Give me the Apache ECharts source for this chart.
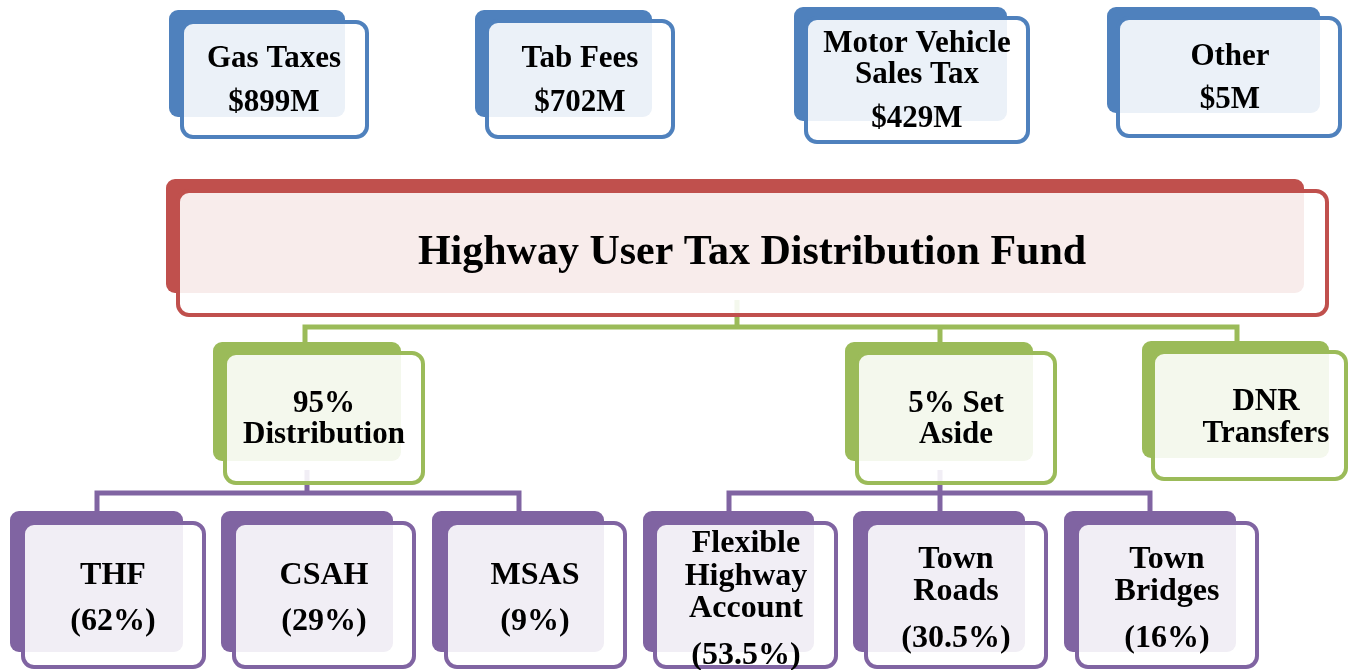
<!DOCTYPE html>
<html>
<head>
<meta charset="utf-8">
<script src="https://cdn.jsdelivr.net/npm/echarts@6/dist/echarts.min.js"></script>
<style>
  html, body { margin: 0; padding: 0; background: #fff; }
  #chart { width: 1348px; height: 670px; }
</style>
</head>
<body>
<div id="chart"></div>
<script>
// revenue sources
var sourceNames = ['Gas Taxes', 'Tab Fees', 'Motor Vehicle\nSales Tax', 'Other'];
var sourceAmounts = ['$899M', '$702M', '$429M', '$5M'];
// fund
var fundName = 'Highway User Tax Distribution Fund';
// first split
var splitNames = ['95%\nDistribution', '5% Set\nAside', 'DNR\nTransfers'];
// 95% distribution
var distNames = ['THF', 'CSAH', 'MSAS'];
var distShares = ['(62%)', '(29%)', '(9%)'];
// 5% set aside
var asideNames = ['Flexible\nHighway\nAccount', 'Town\nRoads', 'Town\nBridges'];
var asideShares = ['(53.5%)', '(30.5%)', '(16%)'];

var BLUE = '#4F81BD', RED = '#C0504D', GREEN = '#9BBB59', PURPLE = '#8064A2';
var FONT = '"Liberation Serif", "DejaVu Serif", serif';

// layout: front box, back box, text centre x, line centre ys, colour, font size
var boxLayout = [
  {f: [182, 22, 367, 137], b: [169, 10, 345, 117], tx: 274, ty: [56, 100], c: BLUE, fs: 31},
  {f: [487, 21, 673, 137], b: [475, 10, 652, 117], tx: 580, ty: [56, 100], c: BLUE, fs: 31},
  {f: [806, 18, 1028, 142], b: [794, 7, 1007, 121], tx: 917, ty: [41, 72, 116], c: BLUE, fs: 31},
  {f: [1118, 18, 1340, 136], b: [1107, 7, 1320, 113], tx: 1230, ty: [54, 97], c: BLUE, fs: 31},
  {f: [178, 191, 1327, 315], b: [166, 179, 1304, 293], tx: 752, ty: [250], c: RED, fs: 42},
  {f: [225, 353, 423, 483], b: [213, 342, 401, 461], tx: 324, ty: [401, 432], c: GREEN, fs: 31},
  {f: [857, 353, 1055, 483], b: [845, 342, 1033, 461], tx: 956, ty: [401, 432], c: GREEN, fs: 31},
  {f: [1153, 352, 1346, 479], b: [1142, 341, 1329, 458], tx: 1266, ty: [399, 431], c: GREEN, fs: 31},
  {f: [23, 523, 204, 667], b: [10, 511, 183, 652], tx: 113, ty: [573, 619], c: PURPLE, fs: 32},
  {f: [234, 523, 414, 667], b: [221, 511, 393, 652], tx: 324, ty: [573, 619], c: PURPLE, fs: 32},
  {f: [446, 523, 625, 667], b: [432, 511, 604, 652], tx: 535, ty: [573, 619], c: PURPLE, fs: 32},
  {f: [655, 523, 836, 667], b: [643, 511, 814, 652], tx: 746, ty: [541, 574, 606, 653], c: PURPLE, fs: 32},
  {f: [866, 523, 1046, 667], b: [853, 511, 1025, 652], tx: 956, ty: [557, 589, 636], c: PURPLE, fs: 32},
  {f: [1077, 523, 1257, 667], b: [1064, 511, 1236, 652], tx: 1167, ty: [557, 589, 636], c: PURPLE, fs: 32}
];
var TEXT_NUDGE = 3;  // middle baseline sits a bit high for this font

var linkLayout = [
  {p: [[305, 345], [305, 327], [1237, 327], [1237, 343]], c: GREEN},
  {p: [[737, 300], [737, 327]], c: GREEN},
  {p: [[940, 327], [940, 345]], c: GREEN},
  {p: [[97, 511], [97, 493], [519, 493], [519, 511]], c: PURPLE},
  {p: [[307, 470], [307, 493]], c: PURPLE},
  {p: [[729, 511], [729, 493], [1150, 493], [1150, 511]], c: PURPLE},
  {p: [[940, 470], [940, 511]], c: PURPLE}
];

// text lines for each box, in layout order
var boxLines = [];
sourceNames.forEach(function (n, i) { boxLines.push(n.split('\n').concat(sourceAmounts[i])); });
boxLines.push([fundName]);
splitNames.forEach(function (n) { boxLines.push(n.split('\n')); });
distNames.forEach(function (n, i) { boxLines.push(n.split('\n').concat(distShares[i])); });
asideNames.forEach(function (n, i) { boxLines.push(n.split('\n').concat(asideShares[i])); });

function rectShape(api, r, radius) {
  var p1 = api.coord([r[0], r[1]]);
  var p2 = api.coord([r[2], r[3]]);
  return {x: p1[0], y: p1[1], width: p2[0] - p1[0], height: p2[1] - p1[1], r: radius};
}

function renderBox(params, api) {
  var i = api.value(0);
  var L = boxLayout[i];
  var children = [
    {type: 'rect', shape: rectShape(api, L.b, 9), style: {fill: L.c}},
    {type: 'rect', shape: rectShape(api, L.f, 11),
     style: {fill: 'rgba(255,255,255,0.89)', stroke: L.c, lineWidth: 4}}
  ];
  boxLines[i].forEach(function (t, k) {
    var p = api.coord([L.tx, L.ty[k] + TEXT_NUDGE]);
    children.push({
      type: 'text',
      style: {
        text: t, x: p[0], y: p[1], align: 'center', verticalAlign: 'middle',
        fill: '#000', font: 'bold ' + L.fs + 'px ' + FONT
      }
    });
  });
  return {type: 'group', children: children};
}

function renderLink(params, api) {
  var L = linkLayout[api.value(0)];
  var pts = L.p.map(function (q) { return api.coord(q); });
  return {
    type: 'polyline',
    shape: {points: pts},
    style: {stroke: L.c, lineWidth: 5, fill: null, lineJoin: 'miter'}
  };
}

var chart = echarts.init(document.getElementById('chart'));
chart.setOption({
  animation: false,
  grid: {left: 0, right: 0, top: 0, bottom: 0},
  xAxis: {type: 'value', min: 0, max: 1348, show: false},
  yAxis: {type: 'value', min: 0, max: 670, inverse: true, show: false},
  series: [
    {
      type: 'custom',
      renderItem: renderLink,
      data: linkLayout.map(function (d, i) { return [i]; }),
      z: 1
    },
    {
      type: 'custom',
      renderItem: renderBox,
      data: boxLayout.map(function (d, i) { return [i]; }),
      z: 2
    }
  ]
});
</script>
</body>
</html>
